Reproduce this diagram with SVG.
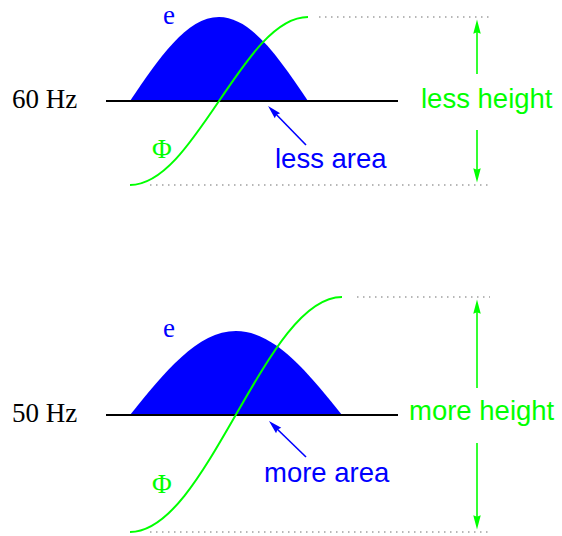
<svg xmlns="http://www.w3.org/2000/svg" width="562" height="536" viewBox="0 0 562 536">
<style>
.serif{font-family:"Liberation Serif","Times New Roman",serif;font-size:27px}
.sans{font-family:"Liberation Sans",Arial,sans-serif;font-size:27.5px}
.base{stroke:#000;stroke-width:2;fill:none}
.emf{fill:#0000ff;stroke:none}
.flux{stroke:#00ff00;stroke-width:2;fill:none}
.dot{stroke:#a0a0a0;stroke-width:1.5;stroke-dasharray:1.5 4.5;fill:none}
.garrow{stroke:#00ff00;stroke-width:1.6;fill:none;marker-end:url(#gh)}
.barrow{stroke:#0000ff;stroke-width:1.6;fill:none;marker-end:url(#bh)}
</style>
<defs>
<marker id="gh" markerUnits="userSpaceOnUse" markerWidth="30" markerHeight="30" viewBox="-20 -10 40 20" refX="0" refY="0" orient="auto" overflow="visible">
<path d="M10,0 L-9,-5 L-7,0 L-9,5 z" fill="#00ff00"/>
</marker>
<marker id="bh" markerUnits="userSpaceOnUse" markerWidth="30" markerHeight="30" viewBox="-20 -10 40 20" refX="0" refY="0" orient="auto" overflow="visible">
<path d="M6,0 L-12,-5 L-10,0 L-12,5 z" fill="#0000ff"/>
</marker>
</defs>

<g id="panel60">
<g id="emf60">
<path class="emf" d="M130,101 C159,58 186.8,17 219,17 C251.2,17 279,58 308,101 Z"/>
</g>
<g id="base60"><line class="base" x1="106" y1="101" x2="398" y2="101"/></g>
<g id="flux60">
<path class="flux" d="M130,185 C162.2,185 190,144 219,101 C248,58 275.8,17 308,17"/>
</g>
<g id="dots60">
<line class="dot" x1="319" y1="17" x2="490" y2="17"/>
<line class="dot" x1="150" y1="185" x2="490" y2="185"/>
</g>
<text class="serif" x="12" y="108">60 Hz</text>
<text class="serif" x="163" y="24" fill="#0000ff">e</text>
<text class="serif" x="152" y="158" fill="#00ff00">Φ</text>
<text class="sans" x="275" y="168" fill="#0000ff">less area</text>
<text class="sans" x="421" y="108" fill="#00ff00">less height</text>
</g>

<g id="panel50">
<g id="emf50">
<path class="emf" d="M130,415 C164.6,372 197.6,331 236,331 C274.4,331 307.4,372 342,415 Z"/>
</g>
<g id="base50"><line class="base" x1="106" y1="415" x2="398" y2="415"/></g>
<g id="flux50">
<path class="flux" d="M130,532 C168.4,532 201.4,474.7 236,414.5 C270.6,354.3 303.6,297 342,297"/>
</g>
<g id="dots50">
<line class="dot" x1="357" y1="297" x2="490" y2="297"/>
<line class="dot" x1="150" y1="532" x2="490" y2="532"/>
</g>
<text class="serif" x="12" y="422">50 Hz</text>
<text class="serif" x="163" y="337" fill="#0000ff">e</text>
<text class="serif" x="152" y="493" fill="#00ff00">Φ</text>
<text class="sans" x="264" y="482" fill="#0000ff">more area</text>
<text class="sans" x="409" y="420" fill="#00ff00">more height</text>
</g>

<g id="connectors">
<line class="garrow" x1="477" y1="74" x2="477" y2="27"/>
<line class="garrow" x1="477" y1="130" x2="477" y2="175"/>
<line class="garrow" x1="477" y1="388" x2="477" y2="307"/>
<line class="garrow" x1="477" y1="443" x2="477" y2="522"/>
<line class="barrow" x1="306" y1="145" x2="271.2" y2="109.3"/>
<line class="barrow" x1="306" y1="457" x2="272.2" y2="424.2"/>
</g>
</svg>
